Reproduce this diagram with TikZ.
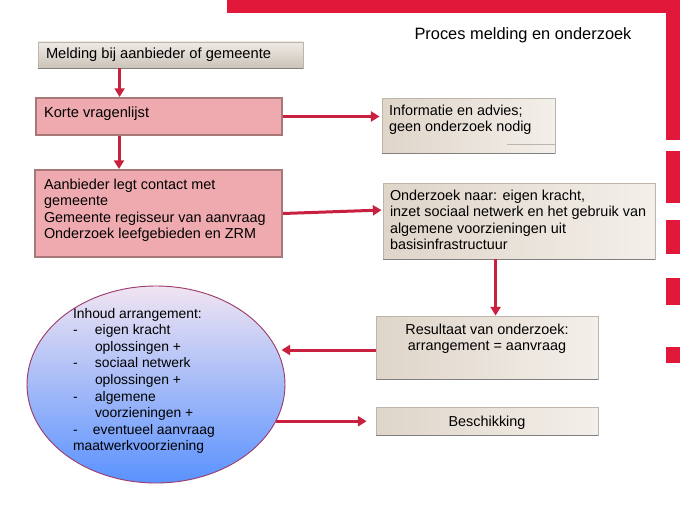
\documentclass[tikz,border=0pt]{standalone}
\usepackage{fontspec}
\setmainfont{Liberation Sans}
\usetikzlibrary{arrows.meta,calc,shapes.geometric}
\newdimen\px \px=0.75pt
% zero-size text block: left offset, raise (px), content
\newcommand{\ztl}[3]{\makebox[0pt][l]{\hspace*{#1\px}\raisebox{#2\px}[0pt][0pt]{\parbox[t]{12cm}{#3}}}}
\newcommand{\ztc}[2]{\makebox[0pt][c]{\raisebox{#1\px}[0pt][0pt]{\parbox[t]{12cm}{\centering #2}}}}
\definecolor{brandred}{HTML}{E2183A}
\definecolor{arrred}{HTML}{C8203E}
\definecolor{pinkfill}{HTML}{EFAAB0}
\definecolor{pinkdraw}{HTML}{A87777}
\definecolor{beigeL}{HTML}{F3EFEA}
\definecolor{beigeD}{HTML}{DFD5C9}
\definecolor{beigeline}{HTML}{BDB4AA}
\definecolor{topL}{HTML}{EEEBE6}
\definecolor{topD}{HTML}{CCC3B8}
\definecolor{shadowgray}{HTML}{808080}
\definecolor{ellTop}{HTML}{F0E4F2}
\definecolor{ellMid}{HTML}{A3C6F7}
\definecolor{ellBot}{HTML}{5A92FE}
\definecolor{ellDraw}{HTML}{9C3C6C}
\tikzset{
  boxfont/.style={font=\fontsize{10.8}{12.45}\selectfont},
  pinkbox/.style={rectangle, fill=pinkfill, draw=pinkdraw, line width=1.5pt, inner sep=0pt, boxfont},
  beigebox/.style={rectangle, left color=beigeD, right color=beigeL, draw=beigeline, line width=0.6pt, inner sep=0pt, boxfont},
  topbox/.style={rectangle, top color=topL, bottom color=topD, draw=beigeline, line width=0.6pt, inner sep=0pt, boxfont},
  shadowline/.style={draw=shadowgray, line width=1.3pt},
  ellbox/.style={ellipse, top color=ellTop, middle color=ellMid, bottom color=ellBot, draw=ellDraw, line width=0.7pt, inner sep=0pt, font=\fontsize{10.4}{12.45}\selectfont},
  arr/.style={draw=arrred, line width=2.25pt, -{Triangle[width=7.5pt,length=6.5pt]}},
}
\begin{document}
\begin{tikzpicture}[x=0.75pt,y=-0.75pt]
\useasboundingbox (0,0) rectangle (680,510);
% decoration
\fill[brandred] (227,0) rectangle (680,13);
\fill[brandred] (666,0) rectangle (680,140);
\fill[brandred] (666,151) rectangle (680,203);
\fill[brandred] (666,220) rectangle (680,254);
\fill[brandred] (666,278) rectangle (680,305);
\fill[brandred] (666,347) rectangle (680,363);
% title
\node[font=\fontsize{12.3}{14}\selectfont] (title) at (523,35) {Proces melding en onderzoek};
% boxes
\node[topbox, font=\fontsize{11}{12.45}\selectfont, minimum width={265*0.75pt}, minimum height={26*0.75pt}] (b1) at (170.5,55)
  {\ztl{-124.5}{-4}{Melding bij aanbieder of gemeente}};
\node[pinkbox, font=\fontsize{11}{12.45}\selectfont, minimum width={246*0.75pt}, minimum height={37*0.75pt}] (b2) at (159,116.5)
  {\ztl{-115}{-0.5}{Korte vragenlijst}};
\node[pinkbox, minimum width={247*0.75pt}, minimum height={87*0.75pt}] (b3) at (158.5,213.5)
  {\ztl{-114.5}{24.5}{Aanbieder legt contact met\\gemeente\\Gemeente regisseur van aanvraag\\Onderzoek leefgebieden en ZRM}};
\node[beigebox, minimum width={173*0.75pt}, minimum height={55*0.75pt}] (inf) at (468.5,125.5)
  {\ztl{-79.5}{10.5}{Informatie en advies;\\geen onderzoek nodig}};
\node[beigebox, minimum width={272*0.75pt}, minimum height={76*0.75pt}] (ond) at (519,221)
  {\ztl{-129}{21}{Onderzoek naar: eigen kracht,\\inzet sociaal netwerk en het gebruik van\\algemene voorzieningen uit\\basisinfrastructuur}};
\node[beigebox, minimum width={222*0.75pt}, minimum height={63*0.75pt}] (res) at (487,347.5)
  {\ztc{13.5}{Resultaat van onderzoek:\\arrangement = aanvraag}};
\node[beigebox, minimum width={222*0.75pt}, minimum height={28*0.75pt}] (bes) at (487,421)
  {\ztc{-5}{Beschikking}};
\node[ellbox, minimum width={258*0.75pt}, minimum height={197*0.75pt}] (ell) at (156,384.5)
  {\ztl{-83}{66.5}{Inhoud arrangement:\\
   \makebox[22\px][l]{-}eigen kracht\\
   \hspace*{22\px}oplossingen +\\
   \makebox[22\px][l]{-}sociaal netwerk\\
   \hspace*{22\px}oplossingen +\\
   \makebox[22\px][l]{-}algemene\\
   \hspace*{22\px}voorzieningen +\\
   \makebox[20\px][l]{-}eventueel aanvraag\\
   maatwerkvoorziening}};
% shadows of beige boxes
\foreach \n in {b1,inf,ond,res,bes}{
  \draw[shadowline] (\n.south west) -- (\n.south east);
}
\draw[beigeline, line width=0.6pt] ($(inf.south east)+(-48,-9)$) -- ($(inf.south east)+(0,-9)$);
% connectors
\draw[arr] ($(b1.south west)+(82,0)$) coordinate (a1s) -- (a1s |- b2.north);
\draw[arr] ($(b2.south west)+(84,0)$) coordinate (a2s) -- (a2s |- b3.north);
\draw[arr, shorten >=1.5pt] (b2.east) -- (b2.east -| inf.west);
\draw[arr, shorten >=0.8pt] (b3.east) -- ($(ond.west)+(0,-11)$);
\draw[arr] ($(ond.south west)+(113,0)$) coordinate (a5s) -- (a5s |- res.north);
\draw[arr] ($(res.west)+(0,2.5)$) coordinate (a6s) -- ($(a6s -| ell.east)+(-4,0)$);
\draw[arr, shorten >=6.75pt] (ell.-17) -- (ell.-17 -| bes.west);
\end{tikzpicture}
\end{document}
